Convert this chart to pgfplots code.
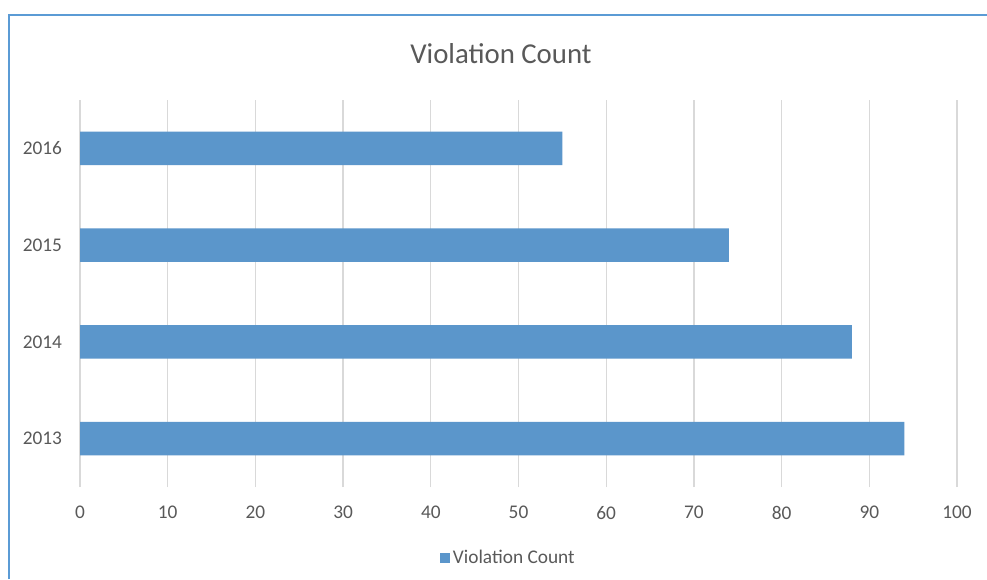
\documentclass[border=0pt]{standalone}
\usepackage{pgfplots}
\pgfplotsset{compat=1.18}
\usepackage{fontspec}
\setmainfont{Carlito}
\definecolor{barblue}{HTML}{5B96CB}
\definecolor{txtgray}{HTML}{595959}
\definecolor{gridgray}{HTML}{D9D9D9}
\definecolor{frameblue}{HTML}{5B9BD5}
\begin{document}
\begin{tikzpicture}
\path[use as bounding box] (0pt,0pt) rectangle (740.25pt,434.25pt);
\fill[white] (0pt,0pt) rectangle (740.25pt,434.25pt);
\draw[frameblue, line width=1.3pt] (6.9pt,0pt) -- (6.9pt,423.2pt) -- (740.25pt,423.2pt);
\node[text=txtgray, font=\fontsize{21.6pt}{24pt}\selectfont] at (375.75pt,394pt) {Violation Count};
\begin{axis}[
  at={(60pt,69pt)}, anchor=south west,
  scale only axis, width=657.75pt, height=290.25pt,
  xbar, bar width=25pt,
  xmin=0, xmax=100, ymin=-0.5, ymax=3.5,
  xtick={0,10,...,100},
  ytick={0,1,2,3}, yticklabels={2013,2014,2015,2016},
  axis line style={draw=none},
  major tick length=0pt,
  xmajorgrids, ymajorgrids=false,
  major grid style={gridgray, line width=1pt},
  tick label style={text=txtgray, font=\fontsize{14.5pt}{16pt}\selectfont},
  /pgf/number format/assume math mode=true,
  yticklabel style={xshift=-10pt},
  xticklabel style={yshift=-11pt},
  legend style={at={(0.489,-0.183)}, anchor=center, draw=none, fill=none,
    font=\fontsize{14.5pt}{16pt}\selectfont, text=txtgray, inner sep=0pt},
  legend image code/.code={\fill[barblue] (0pt,-3.9pt) rectangle (7.5pt,3.9pt);},
]
\addplot[fill=barblue, draw=none] coordinates {(94,0) (88,1) (74,2) (55,3)};
\addlegendentry{Violation Count}
\end{axis}
\end{tikzpicture}
\end{document}
